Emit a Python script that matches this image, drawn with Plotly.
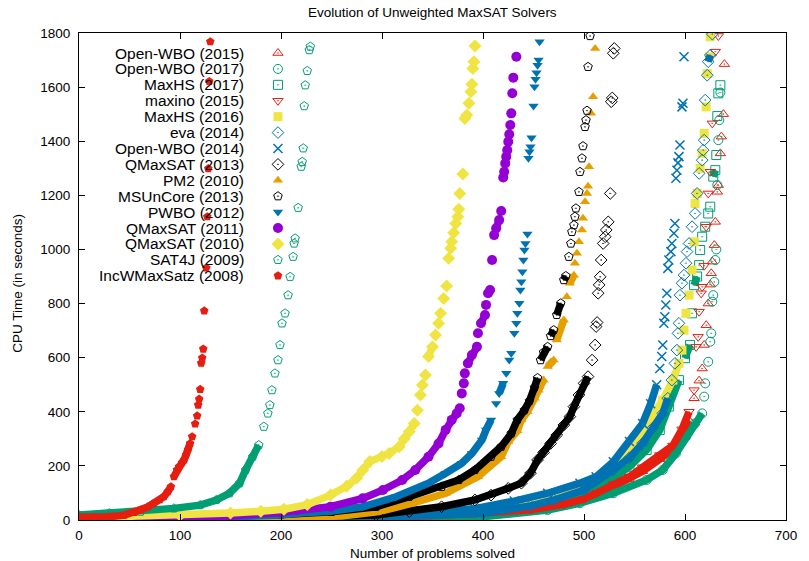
import plotly.graph_objects as go

# ---------------- data (rank = number of problems solved, time = CPU seconds) ----------------
names = ["Open-WBO (2015)", "Open-WBO (2017)", "MaxHS (2017)", "maxino (2015)", "MaxHS (2016)",
         "eva (2014)", "Open-WBO (2014)", "QMaxSAT (2013)", "PM2 (2010)", "MSUnCore (2013)",
         "PWBO (2012)", "QMaxSAT (2011)", "QMaxSAT (2010)", "SAT4J (2009)", "IncWMaxSatz (2008)"]

ow15_r = [0,100,200,300,392,447,480,500,513,529,545,558,575,588,597,604,609,614,617,619,621,623,625,626,627,629,630,632,633,635,636,638,639]
ow15_t = [1,2,3,6,20,33,52,70,92,122,150,180,225,262,318,368,450,515,560,647,720,800,870,912,955,1016,1102,1213,1238,1355,1417,1500,1685]

ow17_r = [0,100,200,300,400,464,496,529,562,578,591,601,610,617,619,620,623,625,626,627,628,629,630,631,632,633,634,635]
ow17_t = [1,2,3,5,12,37,62,99,148,185,246,308,357,394,456,505,585,659,690,807,831,880,961,1000,1238,1404,1478,1580]

mhs17_r = [0,100,200,300,400,450,470,500,522,545,562,575,584,594,600,605,607,609,612,614,615,617,620,623,625,628,630,631,632,633,635]
mhs17_t = [1,2,3,6,15,40,62,92,136,197,259,333,419,517,598,647,764,868,900,942,998,1047,1084,1133,1158,1269,1293,1349,1493,1577,1607]

maxino_r = [0,100,200,300,392,447,480,500,513,529,545,558,575,588,597,604,609,611,613,614,616,617,619,621,623,625,627,630,633]
maxino_t = [1,2,4,8,24,38,58,78,100,132,160,195,240,275,335,400,480,640,677,770,838,862,940,1084,1207,1287,1466,1731,1789]

mhs16_r = [0,100,200,300,400,431,470,500,529,545,558,568,578,588,594,597,599,601,604,607,609,610,612,615,617,619,621,622,624,625]
mhs16_t = [2,4,8,18,42,62,92,123,200,250,315,390,443,517,579,628,702,764,831,924,1028,1170,1207,1300,1355,1429,1527,1650,1712,1786]

eva_r = [0,100,200,300,400,447,470,500,529,545,558,568,578,583,587,590,592,593,594,595,597,599,601,602,604,607,610,612,614,617,618,619,620,622,623,625,627]
eva_t = [1,2,4,10,25,52,74,111,185,230,283,340,394,450,517,579,628,690,727,831,875,905,949,992,1022,1084,1133,1207,1281,1330,1367,1404,1552,1644,1694,1718,1796]

ow14_r = [0,100,200,294,350,392,431,464,496,512,529,545,558,566,572,575,577,578,579,580,581,582,583,584,586,587,589,590,591,592,593,594,595,597,598,599]
ow14_t = [2,3,6,15,28,42,70,99,136,160,215,290,357,430,500,560,604,647,727,751,795,838,930,961,992,1022,1060,1096,1263,1293,1320,1343,1386,1527,1540,1712]

qms13_r = [0,100,200,294,327,359,392,408,425,438,447,454,460,467,473,480,486,490,495,500,504,508,511,512,513,514,515,516,517,519,521,522,524,526,527,528,529,530]
qms13_t = [3,5,10,18,31,49,74,92,117,136,173,222,250,283,314,351,382,419,462,505,530,591,647,715,730,838,869,899,961,1022,1047,1072,1102,1207,1546,1560,1725,1743]

pm2_r = [0,100,200,260,297,330,363,395,418,425,434,438,444,451,455,460,464,470,473,480,483,486,490,491,493,495,498,499,501,503,504,505,507,509,511]
pm2_t = [2,4,8,15,31,62,99,160,234,290,330,370,400,450,480,517,567,591,665,739,825,875,905,949,986,1028,1072,1115,1176,1207,1234,1306,1503,1564,1743]

msu_r = [0,100,200,250,294,327,359,376,392,408,418,428,434,441,446,451,454,457,460,464,467,470,473,477,480,482,485,487,488,490,491,492,495,496,498,499,501,502,503,504,506]
msu_t = [5,10,20,30,49,86,123,148,185,234,271,320,370,406,440,490,525,591,620,640,680,702,758,801,887,902,973,1022,1065,1090,1121,1152,1213,1287,1337,1382,1453,1478,1513,1675,1789]

pwbo_r = [0,100,200,216,249,281,314,346,363,379,389,399,403,408,413,416,420,423,426,428,431,433,434,436,437,438,439,440,441,442,444,445,446,447,448,450,451,452,453,454,455,456]
pwbo_t = [3,6,18,25,32,49,86,136,173,210,246,296,333,370,431,468,505,542,591,616,690,727,764,801,850,881,918,961,998,1022,1057,1337,1361,1380,1413,1530,1601,1629,1653,1681,1700,1768]

qms11_r = [0,100,150,200,216,249,281,301,320,333,346,356,363,369,374,377,379,381,382,385,389,394,395,398,402,403,405,407,409,411,413,416,418,420,421,422,423,424,425,426,427,428,429,430,433]
qms11_t = [5,10,15,28,37,49,80,111,148,185,234,283,333,370,394,413,468,505,542,579,610,640,690,727,758,795,838,850,961,1053,1078,1109,1142,1266,1287,1318,1343,1367,1398,1426,1460,1503,1577,1635,1712]

qms10_r = [0,50,100,150,180,203,226,249,265,275,281,288,300,307,317,322,327,332,335,338,340,343,346,350,353,356,358,361,364,366,368,369,371,373,375,376,377,380,382,384,386,388,389,390,391,392]
qms10_t = [8,12,18,26,32,40,57,92,125,155,185,216,235,246,271,300,326,357,406,462,499,536,604,640,684,727,764,819,865,967,1004,1028,1062,1096,1121,1149,1207,1279,1484,1497,1540,1583,1611,1669,1694,1752]

sat4j_r = [0,30,61,94,120,136,149,159,165,172,178,183,187,189,191,194,197,199,201,204,207,209,212,213,214,217,220,221,222,223,224,226,228,229]
sat4j_t = [18,25,31,43,55,74,99,136,185,234,277,345,394,425,480,542,591,647,727,764,831,899,973,1022,1041,1154,1306,1324,1374,1530,1607,1660,1737,1750]

incw_r = [0,15,30,45,55,61,68,74,80,84,88,91,94,97,99,102,104,106,108,110,112,115,117,118,119,120,121,122,123,124,126,127,128,129,130]
incw_t = [10,10,12,18,28,37,48,62,75,86,105,123,160,185,197,212,222,240,259,283,308,355,385,425,447,483,580,599,632,773,932,1121,1299,1621,1768]

x_ticks = [0, 100, 200, 300, 400, 500, 600, 700]
y_ticks = [0, 200, 400, 600, 800, 1000, 1200, 1400, 1600, 1800]

# ---------------- styles ----------------
RED, GREEN, YELLOW, BLUE = "#e51e10", "#009e73", "#f0e442", "#0072b2"
ORANGE, PURPLE, BLACK = "#e69f00", "#9400d3", "#000000"

series = [
    (ow15_r, ow15_t, RED, "triangle-up-open-dot", 9),
    (ow17_r, ow17_t, GREEN, "circle-open-dot", 9),
    (mhs17_r, mhs17_t, GREEN, "square-open-dot", 9),
    (maxino_r, maxino_t, RED, "triangle-down-open-dot", 9),
    (mhs16_r, mhs16_t, YELLOW, "square", 9),
    (eva_r, eva_t, BLUE, "diamond-open-dot", 9),
    (ow14_r, ow14_t, BLUE, "x-thin", 9),
    (qms13_r, qms13_t, BLACK, "diamond-open-dot", 9),
    (pm2_r, pm2_t, ORANGE, "triangle-up", 9),
    (msu_r, msu_t, BLACK, "pentagon-open-dot", 9),
    (pwbo_r, pwbo_t, BLUE, "triangle-down", 9),
    (qms11_r, qms11_t, PURPLE, "circle", 10),
    (qms10_r, qms10_t, YELLOW, "diamond", 10),
    (sat4j_r, sat4j_t, GREEN, "pentagon-open-dot", 9),
    (incw_r, incw_t, RED, "pentagon", 9),
]

FONT = "Liberation Sans, Arial, sans-serif"


def band(xs, ys, thr=12):
    """connect consecutive points only where the curve is flat enough for markers to merge"""
    bx, by = [xs[0]], [ys[0]]
    for i in range(1, len(xs)):
        if (ys[i] - ys[i - 1]) / (xs[i] - xs[i - 1]) > thr:
            bx.append(None)
            by.append(None)
        bx.append(xs[i])
        by.append(ys[i])
    return bx, by


def marker(color, symbol, size):
    if symbol == "x-thin":
        return dict(symbol=symbol, size=size, color=color, line=dict(color=color, width=1.5))
    if "open" in symbol:
        return dict(symbol=symbol, size=size, color=color, line=dict(color=color, width=1))
    return dict(symbol=symbol, size=size, color=color, line=dict(width=0))


fig = go.Figure()
for (xs, ys, color, symbol, size) in series:
    bx, by = band(xs, ys)
    fig.add_trace(go.Scatter(x=bx, y=by, mode="lines", line=dict(color=color, width=7.5),
                             hoverinfo="skip", showlegend=False, connectgaps=False))
    fig.add_trace(go.Scatter(x=xs, y=ys, mode="markers", marker=marker(color, symbol, size),
                             showlegend=False))

# ---------------- custom key (text right-aligned, sample to its right) ----------------
key_text_x = 165.5
key_sym_x = 197
key_top = 1726
key_step = 58.8
annotations = []
for i, ((xs, ys, color, symbol, size), name) in enumerate(zip(series, names)):
    ky = key_top - i * key_step
    annotations.append(dict(x=key_text_x, y=ky, xref="x", yref="y", text=name, showarrow=False,
                            xanchor="right", yanchor="middle",
                            font=dict(family=FONT, size=15.5, color="black")))
    fig.add_trace(go.Scatter(x=[key_sym_x], y=[ky], mode="markers",
                             marker=marker(color, symbol, size), showlegend=False, hoverinfo="skip"))

annotations.append(dict(x=0.5, y=-0.068, xref="paper", yref="paper", text="Number of problems solved",
                        showarrow=False, xanchor="center", yanchor="middle",
                        font=dict(family=FONT, size=13.5, color="black")))
annotations.append(dict(x=-0.0865, y=0.487, xref="paper", yref="paper", text="CPU Time (in seconds)",
                        showarrow=False, xanchor="center", yanchor="middle", textangle=-90,
                        font=dict(family=FONT, size=13.5, color="black")))
annotations.append(dict(x=0.5, y=1.043, xref="paper", yref="paper", text="Evolution of Unweighted MaxSAT Solvers",
                        showarrow=False, xanchor="center", yanchor="middle",
                        font=dict(family=FONT, size=13.5, color="black")))

axis_common = dict(showgrid=False, zeroline=False, showline=True, linecolor="black", linewidth=1,
                   mirror="allticks", ticks="inside", ticklen=6, tickwidth=1, tickcolor="black",
                   tickfont=dict(family=FONT, size=13.5, color="black"))

fig.update_layout(
    width=809, height=561,
    margin=dict(l=79, r=14, t=33, b=41),
    paper_bgcolor="white", plot_bgcolor="white",
    xaxis=dict(range=[0, 700], tickvals=x_ticks, ticklabelstandoff=3, **axis_common),
    yaxis=dict(range=[0, 1800], tickvals=y_ticks, ticklabelstandoff=5, **axis_common),
    annotations=annotations,
    showlegend=False,
)

fig.write_html("out.html")
